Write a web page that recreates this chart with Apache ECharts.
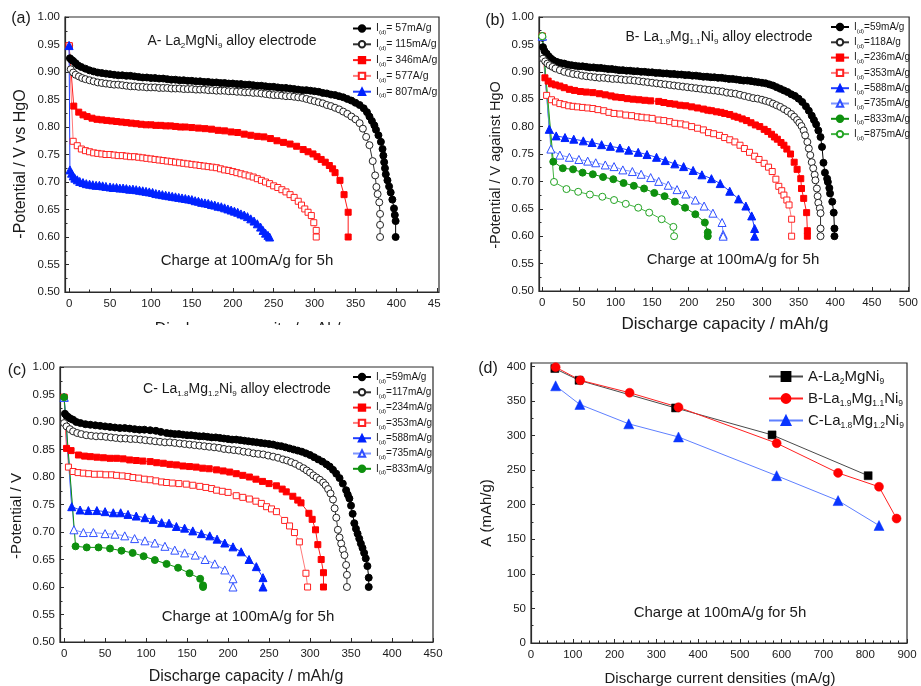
<!DOCTYPE html>
<html>
<head>
<meta charset="utf-8">
<script src="https://cdn.jsdelivr.net/npm/echarts@6.0.0/dist/echarts.min.js"></script>
<style>
html,body{margin:0;padding:0;background:#fff;}
#chart{width:921px;height:686px;}
</style>
</head>
<body>
<div id="chart"></div>
<script>
// ---------- (a) La2MgNi9: discharge curves [capacity mAh/g, -potential V] ----------
const a57 = [[0,0.948],[1,0.925],[3,0.922],[5,0.920],[8,0.916],[11,0.912],[15,0.909],[20,0.906],[25,0.903],[30,0.901],[35,0.899],[40,0.898],[45,0.897],[50,0.896],[55,0.895],[60,0.894],[65,0.894],[70,0.893],[75,0.893],[80,0.892],[85,0.891],[90,0.890],[95,0.890],[100,0.889],[105,0.889],[110,0.888],[115,0.888],[120,0.887],[125,0.886],[130,0.886],[135,0.885],[140,0.885],[145,0.884],[150,0.884],[155,0.883],[160,0.883],[165,0.882],[170,0.882],[175,0.881],[180,0.881],[185,0.880],[190,0.880],[195,0.879],[200,0.879],[205,0.878],[210,0.878],[215,0.877],[220,0.877],[225,0.876],[230,0.875],[235,0.875],[240,0.874],[245,0.873],[250,0.873],[255,0.872],[260,0.871],[265,0.871],[270,0.870],[275,0.869],[280,0.868],[285,0.867],[290,0.867],[295,0.866],[300,0.865],[305,0.864],[310,0.862],[315,0.861],[320,0.859],[325,0.858],[330,0.856],[335,0.854],[340,0.851],[345,0.848],[350,0.844],[355,0.840],[360,0.834],[364,0.827],[367,0.819],[370,0.811],[373,0.803],[375,0.795],[378,0.785],[381,0.773],[383,0.760],[384,0.748],[385,0.736],[386,0.725],[387,0.714],[389,0.703],[391,0.692],[393,0.681],[395,0.668],[397,0.652],[398,0.640],[399,0.629],[399,0.600]];
const a115 = [[2,0.905],[5,0.899],[8,0.895],[12,0.892],[16,0.889],[20,0.887],[25,0.885],[30,0.883],[35,0.881],[40,0.880],[45,0.879],[50,0.878],[55,0.877],[60,0.877],[65,0.876],[70,0.875],[75,0.874],[80,0.874],[85,0.873],[90,0.873],[95,0.872],[100,0.872],[105,0.872],[110,0.871],[115,0.871],[120,0.871],[125,0.870],[130,0.870],[135,0.870],[140,0.869],[145,0.869],[150,0.869],[155,0.868],[160,0.868],[165,0.868],[170,0.867],[175,0.867],[180,0.866],[185,0.866],[190,0.866],[195,0.865],[200,0.865],[205,0.864],[210,0.864],[215,0.863],[220,0.863],[225,0.862],[230,0.862],[235,0.861],[240,0.860],[245,0.859],[250,0.858],[255,0.858],[260,0.857],[265,0.856],[270,0.856],[275,0.855],[280,0.854],[285,0.853],[290,0.851],[295,0.849],[300,0.847],[305,0.845],[310,0.843],[315,0.840],[320,0.838],[325,0.835],[330,0.832],[335,0.828],[340,0.824],[345,0.819],[350,0.814],[355,0.807],[359,0.797],[363,0.782],[367,0.767],[371,0.738],[374,0.712],[375.5,0.691],[377,0.678],[379,0.663],[380,0.642],[380,0.622],[380,0.600]];
const a346 = [[0,0.948],[5.7,0.838],[11.8,0.827],[17,0.822],[22,0.819],[28,0.816],[34,0.814],[40,0.813],[46,0.812],[52,0.811],[58,0.810],[64,0.809],[70,0.808],[76,0.807],[82,0.806],[88,0.805],[94,0.804],[100,0.804],[106,0.803],[112,0.803],[118,0.802],[124,0.802],[130,0.801],[136,0.800],[142,0.800],[150,0.799],[158,0.798],[166,0.797],[174,0.796],[182,0.794],[190,0.793],[198,0.791],[206,0.790],[214,0.787],[222,0.785],[230,0.783],[238,0.782],[246,0.779],[254,0.775],[262,0.772],[270,0.769],[278,0.765],[286,0.759],[292,0.755],[298,0.751],[303,0.746],[308,0.741],[313,0.736],[318,0.730],[322,0.724],[325,0.717],[331,0.703],[336,0.677],[341,0.645],[341,0.600]];
const a577 = [[0,0.948],[5,0.774],[10,0.766],[15,0.760],[20,0.757],[25,0.755],[30,0.753],[35,0.752],[40,0.751],[45,0.750],[50,0.750],[55,0.749],[60,0.748],[65,0.748],[70,0.747],[75,0.746],[80,0.746],[85,0.745],[90,0.744],[95,0.743],[100,0.742],[105,0.741],[110,0.740],[115,0.739],[120,0.738],[125,0.737],[130,0.736],[135,0.735],[140,0.734],[145,0.733],[150,0.732],[155,0.731],[160,0.730],[165,0.729],[170,0.728],[175,0.727],[180,0.726],[185,0.724],[190,0.722],[195,0.721],[200,0.719],[205,0.717],[210,0.715],[215,0.713],[220,0.711],[225,0.709],[230,0.706],[235,0.703],[240,0.700],[245,0.697],[250,0.693],[255,0.690],[260,0.686],[265,0.682],[270,0.677],[275,0.672],[280,0.665],[284,0.658],[288,0.651],[292,0.645],[296,0.639],[299,0.626],[302,0.612],[302,0.600]];
const a807 = [[0,0.948],[1,0.722],[3,0.716],[5,0.711],[7,0.707],[10,0.704],[13,0.701],[17,0.699],[21,0.697],[25,0.696],[29,0.695],[33,0.694],[37,0.694],[41,0.693],[45,0.692],[50,0.691],[54,0.690],[58,0.690],[62,0.689],[66,0.689],[70,0.688],[74,0.687],[78,0.687],[82,0.686],[86,0.685],[90,0.684],[94,0.683],[98,0.682],[102,0.681],[106,0.679],[110,0.678],[114,0.677],[118,0.676],[122,0.675],[126,0.674],[130,0.673],[134,0.672],[138,0.671],[142,0.670],[146,0.669],[150,0.668],[154,0.666],[158,0.665],[162,0.663],[166,0.662],[170,0.661],[174,0.659],[178,0.658],[182,0.656],[186,0.655],[190,0.653],[194,0.651],[198,0.649],[202,0.647],[206,0.645],[210,0.642],[214,0.640],[218,0.637],[222,0.633],[226,0.629],[230,0.624],[234,0.618],[237,0.612],[240,0.607],[243,0.603],[245,0.600]];

// ---------- (b) La1.9Mg1.1Ni9 ----------
const b59 = [[0,0.962],[1,0.945],[3,0.938],[6,0.933],[9,0.928],[12,0.924],[15,0.921],[20,0.918],[25,0.916],[30,0.915],[35,0.913],[40,0.912],[45,0.911],[50,0.910],[55,0.910],[60,0.909],[65,0.908],[70,0.908],[75,0.907],[80,0.907],[85,0.906],[90,0.905],[95,0.905],[100,0.904],[105,0.903],[110,0.903],[115,0.902],[120,0.902],[125,0.901],[130,0.901],[135,0.900],[140,0.900],[145,0.899],[150,0.899],[155,0.898],[160,0.898],[165,0.897],[170,0.897],[175,0.896],[180,0.896],[185,0.895],[190,0.895],[195,0.894],[200,0.894],[205,0.893],[210,0.893],[215,0.892],[220,0.891],[225,0.891],[230,0.890],[235,0.890],[240,0.889],[245,0.889],[250,0.888],[255,0.887],[260,0.887],[265,0.886],[270,0.885],[275,0.884],[280,0.884],[285,0.883],[290,0.882],[295,0.881],[300,0.880],[305,0.879],[310,0.877],[315,0.875],[320,0.872],[325,0.869],[330,0.866],[335,0.863],[340,0.859],[345,0.856],[350,0.851],[355,0.845],[360,0.837],[364,0.829],[368,0.820],[371,0.812],[374,0.804],[377,0.793],[380,0.781],[382,0.763],[384,0.734],[386,0.716],[389,0.705],[390,0.699],[392,0.688],[393,0.678],[396,0.663],[398,0.643],[399,0.614],[399,0.600]];
const b118 = [[1,0.924],[4,0.919],[7,0.915],[10,0.912],[14,0.909],[18,0.906],[24,0.903],[30,0.900],[36,0.898],[42,0.896],[48,0.895],[54,0.893],[60,0.892],[66,0.891],[72,0.890],[78,0.889],[84,0.889],[90,0.888],[96,0.887],[102,0.887],[108,0.886],[114,0.885],[120,0.885],[126,0.884],[132,0.883],[138,0.882],[144,0.881],[150,0.880],[156,0.879],[162,0.878],[168,0.877],[174,0.876],[180,0.875],[186,0.874],[192,0.873],[198,0.872],[204,0.871],[210,0.870],[216,0.869],[222,0.868],[228,0.867],[234,0.866],[240,0.865],[246,0.864],[252,0.862],[258,0.861],[264,0.860],[270,0.858],[276,0.856],[282,0.854],[288,0.852],[294,0.851],[300,0.849],[305,0.847],[310,0.845],[315,0.842],[320,0.839],[325,0.836],[330,0.832],[335,0.828],[340,0.823],[344,0.818],[348,0.812],[351,0.807],[354,0.801],[357,0.793],[359,0.784],[362,0.772],[364,0.760],[366,0.748],[368,0.735],[370,0.724],[372,0.712],[373,0.702],[375,0.687],[376,0.673],[377,0.661],[379,0.651],[380,0.642],[380,0.614],[380,0.600]];
const b236 = [[0,0.965],[3.6,0.889],[8,0.883],[12.6,0.878],[18,0.876],[24,0.874],[30,0.871],[37,0.868],[44,0.866],[52,0.864],[60,0.863],[69,0.862],[78,0.860],[86,0.858],[94,0.856],[100,0.854],[108,0.853],[116,0.851],[124,0.850],[132,0.849],[140,0.848],[148,0.847],[159,0.846],[166,0.844],[174,0.842],[181,0.841],[188,0.839],[196,0.838],[204,0.836],[212,0.834],[220,0.832],[226,0.830],[231,0.829],[238,0.827],[244,0.826],[249,0.824],[256,0.822],[262,0.819],[267,0.817],[273,0.814],[279,0.811],[285,0.807],[291,0.803],[297,0.800],[303,0.795],[308,0.791],[313,0.786],[317,0.781],[321,0.777],[326,0.771],[330,0.766],[334,0.759],[339,0.750],[344,0.735],[348,0.722],[353,0.705],[354,0.687],[357,0.669],[361,0.643],[362,0.610],[362,0.600]];
const b353 = [[0,0.965],[5.9,0.857],[12.6,0.849],[18,0.845],[24,0.842],[30,0.840],[36,0.838],[42,0.837],[48,0.836],[55,0.835],[62,0.834],[69,0.833],[76,0.831],[84,0.829],[91,0.826],[98,0.824],[106,0.823],[114,0.821],[122,0.820],[130,0.818],[136,0.817],[143,0.816],[150,0.815],[159,0.812],[166,0.811],[174,0.809],[181,0.806],[189,0.805],[196,0.803],[204,0.800],[212,0.797],[220,0.794],[227,0.789],[234,0.787],[242,0.784],[249,0.780],[256,0.776],[263,0.772],[270,0.766],[276,0.760],[283,0.753],[290,0.746],[296,0.740],[303,0.733],[309,0.726],[314,0.718],[319,0.704],[323,0.691],[327,0.683],[330,0.675],[334,0.666],[337,0.657],[340.5,0.631],[340.5,0.600]];
const b588 = [[0,0.965],[9.5,0.795],[19,0.783],[31,0.780],[43,0.777],[56,0.774],[68,0.771],[81,0.767],[93,0.764],[106,0.761],[118,0.757],[131,0.753],[143,0.749],[156,0.744],[168,0.738],[181,0.732],[193,0.727],[206,0.720],[218,0.712],[231,0.705],[243,0.696],[256,0.682],[268,0.668],[278,0.655],[286,0.637],[290,0.614],[290,0.600]];
const b735 = [[0,0.965],[11.7,0.759],[24,0.748],[37,0.744],[50,0.740],[62,0.737],[73,0.734],[86,0.730],[98,0.727],[110,0.721],[123,0.718],[135,0.713],[148,0.707],[159,0.700],[172,0.693],[184,0.685],[196,0.677],[209,0.666],[221,0.655],[233,0.642],[245.5,0.625],[247,0.603],[247,0.600]];
const b833 = [[0,0.965],[15,0.736],[28,0.724],[42,0.722],[55,0.716],[69,0.713],[83,0.708],[97,0.704],[111,0.697],[125,0.692],[139,0.687],[153,0.679],[167,0.673],[181,0.663],[195,0.652],[209,0.640],[222,0.625],[226,0.607],[226,0.600]];
const b875 = [[0,0.965],[16,0.699],[33,0.686],[49,0.681],[65,0.676],[82,0.672],[98,0.666],[114,0.659],[131,0.652],[146,0.643],[163,0.631],[179,0.617],[180,0.600]];

// ---------- (c) La1.8Mg1.2Ni9 ----------
const c59 = [[1,0.915],[3,0.911],[5,0.909],[8,0.906],[11,0.904],[15,0.900],[20,0.898],[26,0.896],[32,0.895],[38,0.894],[44,0.893],[50,0.892],[56,0.891],[62,0.890],[68,0.889],[74,0.889],[80,0.888],[86,0.887],[92,0.886],[98,0.886],[105,0.885],[112,0.884],[118,0.882],[125,0.880],[130,0.879],[135,0.878],[140,0.878],[145,0.877],[150,0.876],[155,0.876],[160,0.875],[165,0.874],[170,0.874],[175,0.873],[180,0.872],[185,0.872],[190,0.871],[195,0.870],[200,0.869],[205,0.868],[210,0.868],[215,0.867],[220,0.866],[225,0.865],[230,0.864],[235,0.863],[240,0.862],[245,0.861],[250,0.860],[255,0.859],[260,0.857],[265,0.856],[270,0.854],[275,0.852],[280,0.850],[285,0.848],[290,0.846],[295,0.843],[300,0.840],[305,0.836],[310,0.832],[315,0.828],[320,0.823],[324,0.819],[328,0.813],[332,0.806],[336,0.798],[340,0.788],[344,0.776],[346,0.768],[348,0.761],[350,0.748],[352,0.733],[354,0.716],[356,0.706],[358,0.697],[360,0.688],[362,0.679],[364,0.671],[366,0.662],[368,0.652],[370,0.638],[371.6,0.617],[371.6,0.600]];
const c117 = [[0,0.898],[3,0.892],[7,0.887],[11,0.883],[16,0.880],[21,0.878],[27,0.876],[33,0.875],[39,0.874],[45,0.874],[51,0.873],[57,0.872],[63,0.871],[69,0.870],[75,0.870],[81,0.869],[87,0.869],[93,0.868],[99,0.867],[105,0.866],[111,0.865],[117,0.864],[123,0.863],[129,0.863],[135,0.862],[141,0.861],[147,0.860],[153,0.859],[159,0.858],[165,0.857],[171,0.856],[177,0.855],[183,0.854],[189,0.853],[195,0.851],[201,0.850],[207,0.849],[213,0.848],[219,0.846],[225,0.845],[231,0.843],[237,0.842],[243,0.841],[249,0.839],[255,0.837],[261,0.835],[267,0.832],[272,0.830],[277,0.827],[282,0.824],[287,0.820],[292,0.816],[296,0.812],[300,0.808],[304,0.803],[308,0.799],[312,0.795],[316,0.790],[319,0.785],[322,0.778],[325,0.770],[328,0.759],[330,0.743],[332,0.726],[334,0.704],[336,0.690],[338,0.679],[340,0.668],[342,0.658],[344,0.640],[345,0.622],[345,0.600]];
const c234 = [[0,0.945],[3,0.852],[8.5,0.848],[17.5,0.840],[25,0.838],[32,0.837],[40,0.836],[48,0.835],[56,0.834],[64,0.834],[72,0.833],[80,0.831],[88,0.830],[96,0.829],[105,0.828],[113,0.826],[121,0.825],[129,0.823],[137,0.822],[145,0.820],[153,0.819],[161,0.818],[169,0.816],[177,0.815],[186,0.813],[194,0.811],[202,0.809],[210,0.806],[218,0.803],[226,0.800],[234,0.796],[242,0.792],[250,0.788],[259,0.784],[266,0.778],[271,0.773],[279,0.765],[285,0.758],[289,0.753],[298.6,0.734],[302.6,0.723],[306.7,0.704],[309.5,0.677],[313.6,0.650],[316.4,0.626],[316.4,0.600]];
const c353 = [[0,0.945],[5.3,0.818],[11,0.810],[17,0.808],[23.5,0.807],[30,0.806],[37,0.805],[44,0.805],[51,0.804],[58,0.804],[64,0.803],[71,0.802],[78,0.801],[84,0.799],[91,0.798],[98,0.796],[105,0.795],[112,0.793],[119,0.791],[125,0.790],[132,0.789],[140,0.788],[149,0.787],[157,0.785],[165.5,0.783],[173,0.781],[180,0.779],[186,0.776],[193,0.774],[200,0.772],[210,0.766],[218,0.763],[226,0.760],[234,0.756],[240.6,0.752],[247,0.746],[253,0.742],[259,0.737],[269,0.721],[275,0.711],[281,0.699],[287,0.682],[295,0.625],[297,0.600]];
const c588 = [[0,0.945],[9.3,0.746],[19.5,0.740],[29.6,0.739],[40,0.739],[50,0.737],[60,0.735],[69,0.735],[78,0.732],[88,0.729],[98.6,0.726],[108.7,0.723],[119,0.717],[128,0.716],[137,0.710],[147,0.707],[157,0.702],[167.5,0.697],[177.7,0.693],[186.6,0.687],[196,0.680],[206,0.673],[216,0.664],[225.6,0.650],[234.5,0.637],[242.6,0.617],[242.6,0.600]];
const c735 = [[0,0.945],[12,0.704],[23.5,0.699],[35.7,0.699],[50,0.697],[62,0.696],[74,0.693],[86,0.688],[98.6,0.684],[110.7,0.680],[123,0.674],[135,0.667],[147,0.662],[160,0.658],[172,0.650],[183.8,0.642],[196,0.631],[206,0.615],[206,0.600]];
const c833 = [[0,0.945],[14,0.674],[27.6,0.672],[42,0.672],[56,0.670],[70,0.666],[83.6,0.662],[97,0.656],[110.7,0.649],[125,0.642],[139,0.635],[153,0.625],[166,0.615],[169.5,0.603],[169.5,0.600]];

// ---------- (d) discharge capacity vs. discharge current density ----------
const capA = [[57,397],[115,380],[346,340],[577,301],[807,242]];
const capB = [[59,399],[118,380],[236,362],[353,341],[588,289],[735,246],[833,226],[875,180]];
const capC = [[59,372],[117,345],[234,317],[353,298],[588,242],[735,206],[833,170]];

// legend labels (each prefixed by I(d) when drawn)
const legendA = ['= 57mA/g', '= 115mA/g', '= 346mA/g', '= 577A/g', '= 807mA/g'];
const legendB = ['=59mA/g', '=118A/g', '=236mA/g', '=353mA/g', '=588mA/g', '=735mA/g', '=833mA/g', '=875mA/g'];
const legendC = ['=59mA/g', '=117mA/g', '=234mA/g', '=353mA/g', '=588mA/g', '=735mA/g', '=833mA/g'];
const legendD = ['{m|A-La}{s|2}{m|MgNi}{s|9}', '{m|B-La}{s|1.9}{m|Mg}{s|1.1}{m|Ni}{s|9}', '{m|C-La}{s|1.8}{m|Mg}{s|1.2}{m|Ni}{s|9}'];

// tick labels
const capTicksA = [0, 50, 100, 150, 200, 250, 300, 350, 400, 450];
const capMinorA = [25, 75, 125, 175, 225, 275, 325, 375, 425];
const capTicksB = [0, 50, 100, 150, 200, 250, 300, 350, 400, 450, 500];
const capMinorB = [25, 75, 125, 175, 225, 275, 325, 375, 425, 475];
const densTicks = [0, 100, 200, 300, 400, 500, 600, 700, 800, 900];
const densMinor = [20, 40, 60, 80, 120, 140, 160, 180, 220, 240, 260, 280, 320, 340, 360, 380, 420, 440, 460, 480, 520, 540, 560, 580, 620, 640, 660, 680, 720, 740, 760, 780, 820, 840, 860, 880];
const ahTicks = [0, 50, 100, 150, 200, 250, 300, 350, 400];
const ahMinor = [25, 75, 125, 175, 225, 275, 325, 375];

const FONT = 'Liberation Sans, Arial, sans-serif';
const INK = '#1a1a1a';

// marker / line styles, in legend order
const styles = [
  { symbol: 'circle',   fill: '#000000', stroke: '#000000', line: '#000000', size: 7 },
  { symbol: 'circle',   fill: '#ffffff', stroke: '#222222', line: '#333333', size: 7 },
  { symbol: 'rect',     fill: '#ff0000', stroke: '#ff0000', line: '#ff1a1a', size: 6 },
  { symbol: 'rect',     fill: '#ffffff', stroke: '#ff2222', line: '#ff7a7a', size: 6 },
  { symbol: 'triangle', fill: '#0022ff', stroke: '#0022ff', line: '#1f3dff', size: 8 },
  { symbol: 'triangle', fill: '#ffffff', stroke: '#2f4fff', line: '#7d95ff', size: 8 },
  { symbol: 'circle',   fill: '#0e900e', stroke: '#0e900e', line: '#0e900e', size: 7 },
  { symbol: 'circle',   fill: '#ffffff', stroke: '#22a322', line: '#44b544', size: 7 }
];

const panels = [
  { key: 'a', curves: [a57, a115, a346, a577, a807], labels: legendA, xi: 0, yi: 0 },
  { key: 'b', curves: [b59, b118, b236, b353, b588, b735, b833, b875], labels: legendB, xi: 2, yi: 1 },
  { key: 'c', curves: [c59, c117, c234, c353, c588, c735, c833], labels: legendC, xi: 4, yi: 2 }
];

const series = [];
panels.forEach(p => {
  p.names = [];
  p.curves.forEach((pts, i) => {
    const st = styles[i];
    const name = p.key + '|' + p.labels[i];
    p.names.push(name);
    series.push({
      type: 'line', name: name, data: pts,
      xAxisIndex: p.xi, yAxisIndex: p.yi,
      symbol: st.symbol, symbolSize: st.size,
      itemStyle: { color: st.fill, borderColor: st.stroke, borderWidth: 1, opacity: 1 },
      lineStyle: { color: st.line, width: 1 },
      emphasis: { disabled: true }, animation: false
    });
  });
});

const dNames = ['d|A', 'd|B', 'd|C'];
const dStyles = [
  { symbol: 'rect', size: 8, fill: '#000000', line: '#4a4a4a' },
  { symbol: 'circle', size: 9, fill: '#ff0000', line: '#ff2020' },
  { symbol: 'triangle', size: 10, fill: '#0a36ff', line: '#5f80ff' }
];
[capA, capB, capC].forEach((pts, i) => {
  const st = dStyles[i];
  series.push({
    type: 'line', name: dNames[i], data: pts, xAxisIndex: 6, yAxisIndex: 3,
    symbol: st.symbol, symbolSize: st.size,
    itemStyle: { color: st.fill, borderColor: st.fill, borderWidth: 0.5, opacity: 1 },
    lineStyle: { color: st.line, width: 1 },
    emphasis: { disabled: true }, animation: false
  });
});

const axisLine = { show: true, onZero: false, lineStyle: { color: '#2a2a2a', width: 1.2 } };
const labelStyle = { fontFamily: FONT, fontSize: 11.5, color: INK };

function capAxis(grid, min, max, ticks) {
  return {
    type: 'value', gridIndex: grid, min: min, max: max, position: 'bottom',
    axisLine: axisLine, splitLine: { show: false },
    axisTick: { show: true, inside: true, length: 4, customValues: ticks, lineStyle: { color: '#2a2a2a' } },
    axisLabel: Object.assign({ show: true, margin: 6, customValues: ticks }, labelStyle)
  };
}
function minorXAxis(grid, min, max, ticks) {
  return {
    type: 'value', gridIndex: grid, min: min, max: max, position: 'bottom',
    axisLine: { show: false }, splitLine: { show: false }, axisLabel: { show: false },
    axisTick: { show: true, inside: true, length: 2.5, customValues: ticks, lineStyle: { color: '#2a2a2a' } }
  };
}
function potAxis(grid) {
  return {
    type: 'value', gridIndex: grid, min: 0.5, max: 1.0, interval: 0.05, position: 'left',
    axisLine: axisLine, splitLine: { show: false },
    axisTick: { show: true, inside: true, length: 4, lineStyle: { color: '#2a2a2a' } },
    minorTick: { show: true, splitNumber: 2, length: 2.5, lineStyle: { color: '#2a2a2a' } },
    axisLabel: Object.assign({ margin: 5, formatter: v => v.toFixed(2) }, labelStyle)
  };
}

const gridBase = { show: true, borderColor: '#2a2a2a', borderWidth: 1.2, backgroundColor: 'transparent' };

const legendRich = {
  m: { fontFamily: FONT, fontSize: 10.5, lineHeight: 14, color: INK },
  s: { fontFamily: FONT, fontSize: 6, lineHeight: 7, verticalAlign: 'bottom', color: INK }
};
const legendRichSmall = {
  m: { fontFamily: FONT, fontSize: 10, lineHeight: 14, color: INK },
  s: { fontFamily: FONT, fontSize: 6, lineHeight: 7, verticalAlign: 'bottom', color: INK }
};
function panelLegend(p, left, top, rich) {
  return {
    orient: 'vertical', left: left, top: top, padding: 0,
    itemWidth: 18, itemHeight: 8, itemGap: 3.3,
    data: p.names, selectedMode: false,
    formatter: n => '{m|I}{s|(d)}{m|' + n.split('|')[1] + '}',
    textStyle: { rich: rich }
  };
}

function txt(x, y, text, size, rich, rot) {
  const el = {
    type: 'text', x: x, y: y, z: 50, silent: true,
    style: {
      text: text, font: size + 'px ' + FONT, fill: INK,
      align: 'center', verticalAlign: 'middle',
      textAlign: 'center', textVerticalAlign: 'middle'
    }
  };
  if (rich) el.style.rich = rich;
  if (rot) el.rotation = rot;
  return el;
}
const titleRich = {
  t: { fontFamily: FONT, fontSize: 14, lineHeight: 18, color: INK },
  s: { fontFamily: FONT, fontSize: 8, lineHeight: 8, verticalAlign: 'bottom', color: INK }
};
const UP = Math.PI / 2;

const option = {
  backgroundColor: '#ffffff',
  animation: false,
  grid: [
    Object.assign({ left: 65, top: 17, width: 374, height: 275 }, gridBase),
    Object.assign({ left: 539, top: 17, width: 374, height: 274 }, gridBase),
    Object.assign({ left: 60, top: 367, width: 373, height: 275 }, gridBase),
    Object.assign({ left: 531, top: 363, width: 376, height: 280 }, gridBase)
  ],
  xAxis: [
    capAxis(0, -5, 452, capTicksA), minorXAxis(0, -5, 452, capMinorA),
    capAxis(1, -4.5, 501, capTicksB), minorXAxis(1, -4.5, 501, capMinorB),
    capAxis(2, -5, 450, capTicksA), minorXAxis(2, -5, 450, capMinorA),
    capAxis(3, 0, 900, densTicks), minorXAxis(3, 0, 900, densMinor)
  ],
  yAxis: [
    potAxis(0), potAxis(1), potAxis(2),
    {
      type: 'value', gridIndex: 3, min: 0, max: 405, position: 'left',
      axisLine: axisLine, splitLine: { show: false },
      axisTick: { show: true, inside: true, length: 4, customValues: ahTicks, lineStyle: { color: '#2a2a2a' } },
      axisLabel: Object.assign({ margin: 5, customValues: ahTicks }, labelStyle)
    },
    {
      type: 'value', gridIndex: 3, min: 0, max: 405, position: 'left',
      axisLine: { show: false }, splitLine: { show: false }, axisLabel: { show: false },
      axisTick: { show: true, inside: true, length: 2.5, customValues: ahMinor, lineStyle: { color: '#2a2a2a' } }
    }
  ],
  legend: [
    panelLegend(panels[0], 352, 23, legendRich),
    panelLegend(panels[1], 830, 22, legendRichSmall),
    panelLegend(panels[2], 352, 372, legendRichSmall),
    {
      orient: 'vertical', left: 768, top: 369, padding: 0,
      itemWidth: 34, itemHeight: 11, itemGap: 4.5, selectedMode: false,
      data: dNames,
      formatter: n => legendD[dNames.indexOf(n)],
      textStyle: {
        rich: {
          m: { fontFamily: FONT, fontSize: 15, lineHeight: 20, color: INK },
          s: { fontFamily: FONT, fontSize: 8.5, lineHeight: 9, verticalAlign: 'bottom', color: INK }
        }
      }
    }
  ],
  graphic: [
    // panel letters
    txt(21, 19, '(a)', 16), txt(495, 21, '(b)', 16), txt(17, 371, '(c)', 16), txt(488, 369, '(d)', 16),
    // alloy titles
    txt(232, 41, '{t|A- La}{s|2}{t|MgNi}{s|9}{t| alloy electrode}', 14, titleRich),
    txt(719, 37, '{t|B- La}{s|1.9}{t|Mg}{s|1.1}{t|Ni}{s|9}{t| alloy electrode}', 14, titleRich),
    txt(237, 389, '{t|C- La}{s|1.8}{t|Mg}{s|1.2}{t|Ni}{s|9}{t| alloy electrode}', 14, titleRich),
    // charging condition notes
    txt(247, 261, 'Charge at 100mA/g for 5h', 15), txt(733, 260, 'Charge at 100mA/g for 5h', 15),
    txt(248, 617, 'Charge at 100mA/g for 5h', 15), txt(720, 613, 'Charge at 100mA/g for 5h', 15),
    // axis titles
    txt(21, 164, '-Potential / V vs HgO', 16, null, UP),
    txt(496, 165, '-Potential / V against HgO', 14.5, null, UP),
    txt(17, 516, '-Potential / V', 15, null, UP),
    txt(487, 513, 'A (mAh/g)', 15, null, UP),
    txt(252, 330, 'Discharge capacity / mAh/g', 16),
    txt(725, 324, 'Discharge capacity / mAh/g', 17),
    txt(246, 677, 'Discharge capacity / mAh/g', 16),
    txt(720, 679, 'Discharge current densities (mA/g)', 15),
    // trimmed edges of panel (a)
    { type: 'rect', z: 100, silent: true, shape: { x: 441, y: 293, width: 20, height: 20 }, style: { fill: '#ffffff' } },
    { type: 'rect', z: 100, silent: true, shape: { x: 100, y: 325, width: 320, height: 22 }, style: { fill: '#ffffff' } }
  ],
  series: series
};

const chart = echarts.init(document.getElementById('chart'), null, { renderer: 'canvas' });
chart.setOption(option);
</script>
</body>
</html>
